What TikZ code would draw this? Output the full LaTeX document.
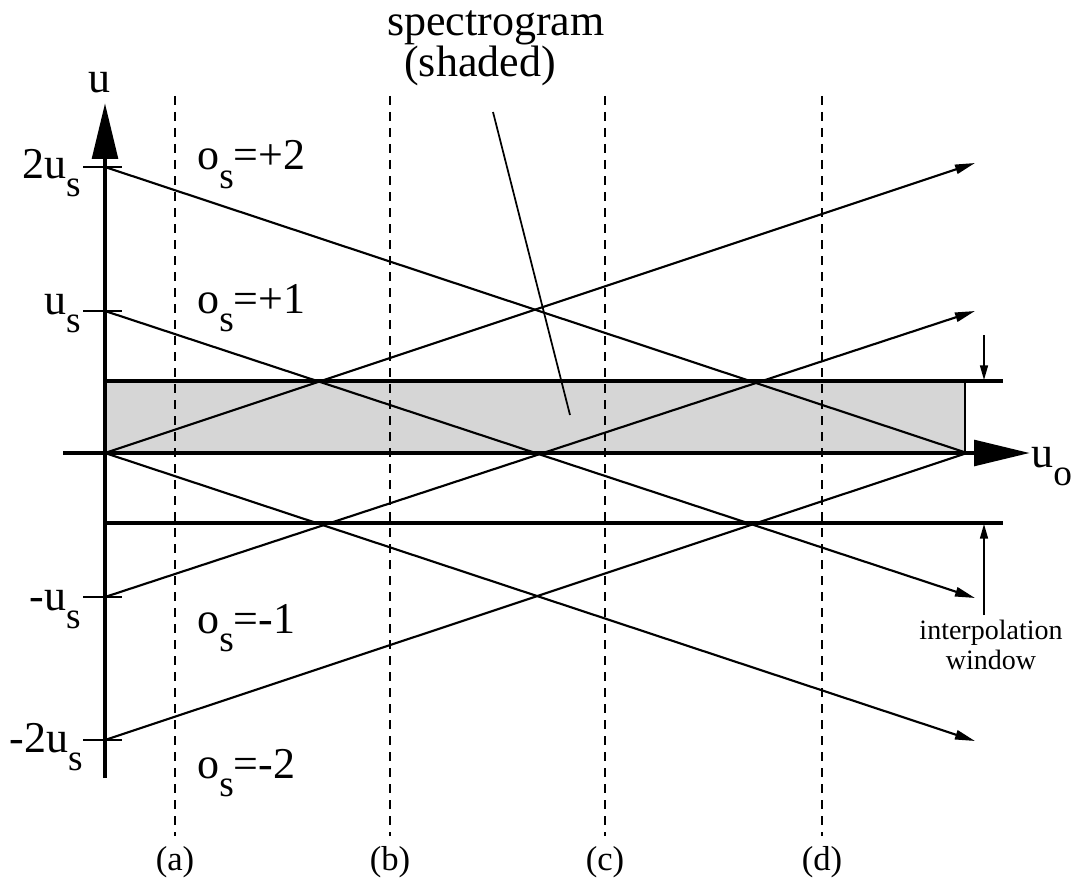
\documentclass[tikz,border=0pt]{standalone}
\usepackage{fontspec}
\setmainfont{Liberation Serif}
\usetikzlibrary{arrows.meta}
\newcommand{\sbs}[1]{\raisebox{-0.42em}{\fontsize{28pt}{28pt}\selectfont #1}}
\begin{document}
\begin{tikzpicture}[x=0.75pt,y=-0.75pt,
  diag/.style={line width=1.6pt},
  diagarrow/.style={diag,-{Triangle[length=15pt,width=7pt]}},
  axisline/.style={line width=3.6pt,-{Triangle[length=42pt,width=19pt]}},
  bandline/.style={line width=3pt},
  dashline/.style={line width=1.7pt,dash pattern=on 7pt off 5pt},
  tickline/.style={line width=1.6pt},
  lab/.style={font=\fontsize{33pt}{36pt}\selectfont,inner sep=0pt},
  smalllab/.style={font=\fontsize{21pt}{22pt}\selectfont,inner sep=0pt},
  letterlab/.style={font=\fontsize{26pt}{28pt}\selectfont,inner sep=0pt},
  shade/.style={fill=black!16}
]
\useasboundingbox (0,0) rectangle (1072,892);

% key coordinates
\coordinate (O) at (105,453);
\coordinate (P2) at (105,167);
\coordinate (P1) at (105,311);
\coordinate (M1) at (105,597);
\coordinate (M2) at (105,740);
\coordinate (E) at (967,453);
\coordinate (R2) at (975,163);
\coordinate (R1) at (975,311);
\coordinate (RM1) at (975,598);
\coordinate (RM2) at (975,741);
\coordinate (BTL) at (105,381);
\coordinate (BTR) at (1003,381);
\coordinate (BBL) at (105,523);
\coordinate (BBR) at (1003,523);
\coordinate (SR) at (965,381);
\coordinate (SRB) at (965,453);

% shaded spectrogram band
\fill[shade] (BTL) rectangle (SRB);
\draw[line width=1.2pt] (SR) -- (SRB);

% dashed verticals
\foreach \x/\n in {175/a,390/b,605/c,822/d}{
  \coordinate (dt\n) at (\x,96);
  \coordinate (db\n) at (\x,836);
  \draw[dashline] (dt\n) -- (db\n);
  \node[letterlab,anchor=base] (lab\n) at (\x,870) {(\n)};
}

% band lines
\draw[bandline] (BTL) -- (BTR);
\draw[bandline] (BBL) -- (BBR);

% diagonal lines
\draw[diag] (P2) -- (E);
\draw[diag] (M2) -- (E);
\draw[diagarrow] (P1) -- (RM1);
\draw[diagarrow] (O) -- (R2);
\draw[diagarrow] (O) -- (RM2);
\draw[diagarrow] (M1) -- (R1);

% axes
\coordinate (VB) at (105,778);
\coordinate (VT) at (105,103);
\coordinate (HL) at (63,453);
\coordinate (HR) at (1030,453);
\draw[axisline] (VB) -- (VT);
\draw[axisline] (HL) -- (HR);

% ticks
\foreach \y/\n in {167/p2,311/p1,597/m1,740/m2}{
  \coordinate (tl\n) at (83,\y);
  \coordinate (tr\n) at (122,\y);
  \draw[tickline] (tl\n) -- (tr\n);
}

% axis labels
\node[lab,anchor=base] (ulab) at (99,93) {u};
\node[lab,anchor=base west] (uolab) at (1031,467) {u\sbs{o}};
\node[lab,anchor=base east] (l2) at (81,178) {2u\sbs{s}};
\node[lab,anchor=base east] (l1) at (81,314) {u\sbs{s}};
\node[lab,anchor=base east] (lm1) at (81,610) {-u\sbs{s}};
\node[lab,anchor=base east] (lm2) at (83,752) {-2u\sbs{s}};

% region labels
\node[lab,anchor=base west] (o2) at (197,170) {o\sbs{s}=+2};
\node[lab,anchor=base west] (o1) at (197,313) {o\sbs{s}=+1};
\node[lab,anchor=base west] (om1) at (197,633) {o\sbs{s}=-1};
\node[lab,anchor=base west] (om2) at (197,778) {o\sbs{s}=-2};

% spectrogram label and leader
\node[font=\fontsize{33pt}{28.5pt}\selectfont,inner sep=0pt,align=center,anchor=north] (spec) at (496,10)
  {spectrogram\\(shaded)\hspace*{24pt}};
\coordinate (LT) at (493,112);
\coordinate (LB) at (570,415);
\draw[line width=1.3pt] (LT) -- (LB);

% interpolation window
\coordinate (IT) at (984,335);
\coordinate (IB) at (984,615);
\coordinate (ITe) at (984,380);
\coordinate (IBe) at (984,524);
\draw[line width=1.2pt,-{Triangle[length=11pt,width=6pt]}] (IT) -- (ITe);
\draw[line width=1.2pt,-{Triangle[length=11pt,width=6pt]}] (IB) -- (IBe);
\node[smalllab,align=center,anchor=north] (iw) at (991,620) {interpolation\\window};
\end{tikzpicture}
\end{document}
